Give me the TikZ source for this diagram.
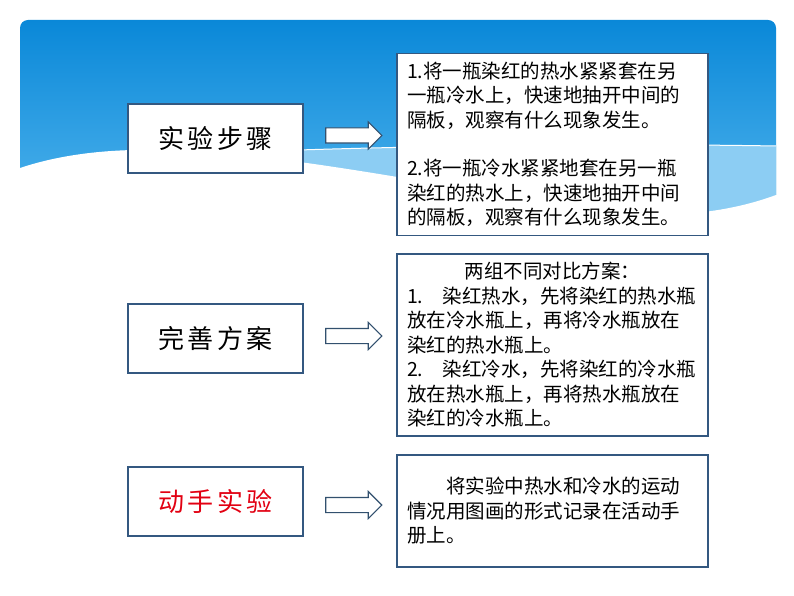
\documentclass[tikz,border=0pt]{standalone}
\usepackage{fontspec}
\setmainfont{Noto Sans CJK SC}
\usetikzlibrary{shapes.arrows}
\definecolor{panelTop}{RGB}{10,136,216}
\definecolor{panelBot}{RGB}{90,186,240}
\definecolor{bandc}{RGB}{140,205,243}
\definecolor{boxc}{RGB}{52,88,128}
\definecolor{arrc}{RGB}{50,80,110}
\definecolor{lblred}{RGB}{226,0,18}
\tikzset{
  lbox/.style={draw=boxc, fill=white, line width=1.2pt, minimum width=175pt, minimum height=69pt, inner sep=0pt, font=\fontsize{26}{30}\selectfont},
  rbox/.style={draw=boxc, fill=white, line width=1.2pt, minimum width=311pt, text width=291pt, inner xsep=10pt, align=left, font=\fontsize{19.5}{24.5}\selectfont},
  blockarrow/.style={single arrow, draw=arrc, fill=white, line width=1.1pt, minimum height=56pt, single arrow head extend=6pt, single arrow tip angle=90, inner xsep=0pt, inner ysep=7pt}
}
\newcommand{\lsp}{\hspace{3.5pt}}
\begin{document}
\begin{tikzpicture}[x=1pt,y=-1pt]
\useasboundingbox (0,0) rectangle (794,596);
\fill[white] (0,0) rectangle (794,596);
% blue panel
\path[rounded corners=8pt, top color=panelTop, bottom color=panelBot] (20,20) rectangle (776,250);
% light swoosh band
\fill[bandc] (240,152) .. controls (400,146) and (600,143) .. (776,146) -- (776,250) -- (240,250) -- cycle;
\draw[white, line width=1pt] (240,152) .. controls (400,146) and (600,143) .. (776,146);
% white lower area
\fill[white] (20,168) .. controls (140,128) and (300,160) .. (560,205) .. controls (660,224) and (730,212) .. (776,195) -- (794,195) -- (794,596) -- (0,596) -- (0,168) -- cycle;

% left labels
\node[lbox] (l1) at (215.5,138.5) {实\lsp 验\lsp 步\lsp 骤};
\node[lbox] (l2) at (215.5,338.5) {完\lsp 善\lsp 方\lsp 案};
\node[lbox, text=lblred] (l3) at (215.5,501.5) {动\lsp 手\lsp 实\lsp 验};

% arrows
\node[blockarrow] (a1) at (350,135.5) {};
\node[blockarrow] (a2) at (350,336) {};
\node[blockarrow] (a3) at (350,505) {};

% right boxes
\node[rbox, minimum height=182pt] (r1) at (552.5,144.5) {1.将一瓶染红的热水紧紧套在另\\
一瓶冷水上，快速地抽开中间的\\
隔板，观察有什么现象发生。\\[24pt]
2.将一瓶冷水紧紧地套在另一瓶\\
染红的热水上，快速地抽开中间\\
的隔板，观察有什么现象发生。};

\node[rbox, minimum height=182pt] (r2) at (552.5,345) {\makebox[291pt][c]{两组不同对比方案：}\\
1.\hspace{1em}染红热水，先将染红的热水瓶\\
放在冷水瓶上，再将冷水瓶放在\\
染红的热水瓶上。\\
2.\hspace{1em}染红冷水，先将染红的冷水瓶\\
放在热水瓶上，再将热水瓶放在\\
染红的冷水瓶上。};

\node[rbox, minimum height=112pt] (r3) at (552.5,511) {\hspace*{2em}将实验中热水和冷水的运动\\
情况用图画的形式记录在活动手\\
册上。};
\end{tikzpicture}
\end{document}
